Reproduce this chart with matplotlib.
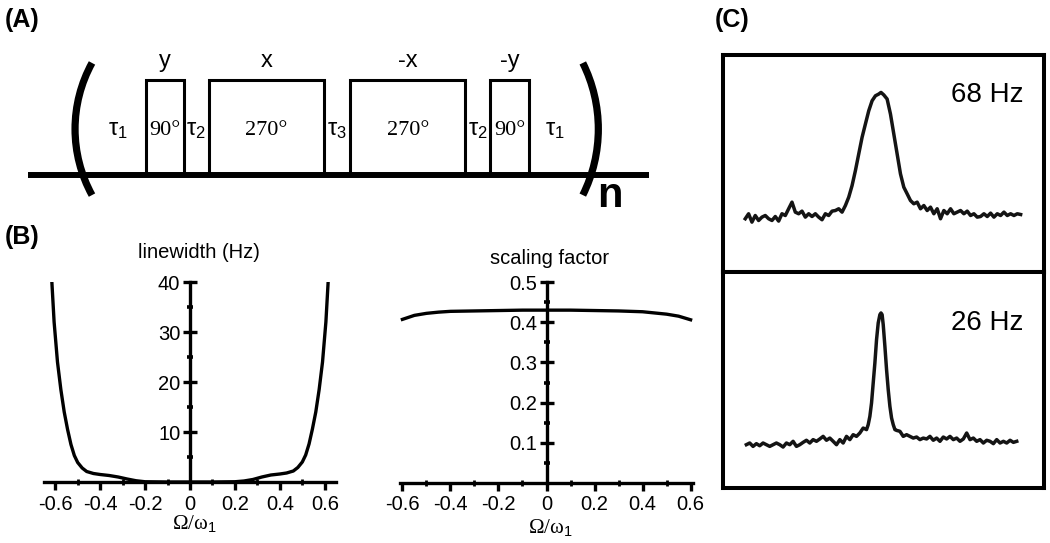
import numpy as np
import matplotlib.pyplot as plt
from matplotlib.patches import Rectangle, Arc
from matplotlib.ticker import FixedLocator

plt.rcParams['font.family'] = ['Liberation Sans', 'DejaVu Sans']
plt.rcParams['mathtext.fontset'] = 'custom'
plt.rcParams['mathtext.rm'] = 'Liberation Sans'
plt.rcParams['mathtext.it'] = 'Liberation Sans:italic'

# (A) pulse sequence: phases, flip angles, delays (in units of a 90 deg pulse)
phases = ['y', 'x', '-x', '-y']
flip_angles = [90, 270, 270, 90]
delay_index = ['1', '2', '3', '2', '1']
delay_lengths = [1.45, 0.65, 0.7, 0.65, 1.4]

# (B) linewidth vs offset
lw_offset = [-0.615, -0.605, -0.59, -0.575, -0.56, -0.545, -0.53, -0.515, -0.50, -0.48,
             -0.46, -0.43, -0.40, -0.36, -0.32, -0.28, -0.24, -0.20, -0.10, 0.0,
             0.10, 0.20, 0.24, 0.28, 0.32, 0.36, 0.40, 0.43, 0.46, 0.48,
             0.50, 0.515, 0.53, 0.545, 0.56, 0.575, 0.59, 0.605, 0.615]
lw_hz = [40, 32, 24, 18.5, 14, 10.5, 7.5, 5.3, 3.9, 2.8,
         2.1, 1.7, 1.5, 1.3, 1.0, 0.6, 0.25, 0.05, 0.0, 0.0,
         0.0, 0.05, 0.2, 0.5, 1.0, 1.4, 1.6, 1.8, 2.2, 2.9,
         4.0, 5.4, 7.6, 10.6, 14, 18.5, 24, 32, 40]

# (B) scaling factor vs offset
sf_offset = [-0.6, -0.55, -0.5, -0.45, -0.4, -0.3, -0.2, -0.1, 0.0, 0.1, 0.2, 0.3, 0.4, 0.45, 0.5, 0.55, 0.6]
sf_value = [0.407, 0.417, 0.422, 0.425, 0.427, 0.428, 0.429, 0.430, 0.430, 0.430, 0.429, 0.428, 0.426, 0.423, 0.420, 0.415, 0.406]

# (C) spectra (offset in Hz, intensity in % of peak)
top_freq = [-244, -238, -232, -226, -220, -214, -208, -202, -196, -190, -184, -178, -172, -166,
            -160, -154, -148, -142, -136, -130, -124, -118, -112, -106, -100, -94, -88, -82,
            -76, -70, -64, -58, -52, -46, -40, -34, -28, -22, -16, -10, -4, 0,
            5, 11, 17, 23, 29, 35, 41, 47, 53, 59, 65, 71, 77, 83, 89, 95, 101, 107,
            113, 119, 125, 131, 137, 143, 149, 155, 161, 167, 173, 179, 185, 191, 197,
            203, 209, 215, 221, 227, 233, 239, 245, 251]
top_int = [-1.3, 2.7, -4.0, 1.3, -2.7, 0, 1.3, -1.3, -2.7, 0.5, -3.2, 2.7, 1.3, 6.7,
           12, 4, 2.7, 4.8, 0, 2.7, 0.5, 2.7, 0, -2.1, 2.7, 1.3, 4.8, 5.3,
           6.7, 4, 9.3, 16, 25.3, 37.3, 50.7, 64, 74.7, 85.3, 93.3, 97.3, 98.7, 100,
           98, 94.7, 82.7, 66.7, 50.7, 34.7, 24, 18.7, 13.3, 10.7, 12, 6.7, 9.3, 5.3, 8, 2.7, 6.7, -1.3,
           5.3, 2.7, 6.7, 2.7, 4, 5.3, 2.7, 4.8, 1.3, 2.7, 0, 0.5, 2.7, 0.5, 3.2,
           0, 2.7, 1.3, 4, 1.3, 2.7, 1.3, 2.7, 2.1]
bot_freq = [-242, -236, -230, -224, -218, -212, -206, -200, -194, -188, -182, -176, -170, -164,
            -158, -152, -146, -140, -134, -128, -122, -116, -110, -104, -98, -92, -86, -80,
            -74, -68, -62, -56, -50, -44, -38, -32, -26, -23, -20, -17, -14, -11, -8, -5, -2, 0,
            2, 4, 7, 10, 13, 16, 19, 22, 25, 28, 34, 40, 46, 52, 58, 64, 70, 76, 82, 88,
            94, 100, 106, 112, 118, 124, 130, 136, 142, 148, 154, 160, 166, 172, 178, 184,
            190, 196, 202, 208, 214, 220, 226, 232, 238, 244]
bot_int = [-1.3, 0, -2.6, -0.5, -2.1, 0, -1.3, -2.6, -1.3, 0, -1.3, -3.1, 0, -1.3,
           1.3, -2.6, -1.3, 0.5, 2.1, 0, 2.6, 1.3, 3.1, 5.1, 2.1, 3.8, 1.3, -1.3,
           2.6, 0, 5.1, 2.6, 6.4, 5.1, 7.7, 11.5, 10.3, 14.1, 20.5, 30.8, 46.2, 61.5, 79.5, 92.3, 98.7, 100,
           98.7, 91, 74.4, 56.4, 41, 28.2, 19.2, 14.1, 10.3, 9.7, 9, 5.1, 6.4, 5.1, 3.8, 4.6, 2.6, 3.8, 3.1, 5.1,
           2.1, 3.8, 1.3, 4.6, 3.1, 5.1, 2.6, 3.8, 1.3, 3.1, 7.7, 2.6, 3.8, 1.3, 2.6, 0,
           2.1, 1.3, -0.5, 2.6, 0, 1.3, 0, 2.1, 0.5, 1.3]
c_labels = ['68 Hz', '26 Hz']

fig = plt.figure(figsize=(10.5, 5.43), dpi=100)
W, H = 1050, 543

def px_axes(x0, y0, x1, y1):
    return fig.add_axes([x0 / W, 1 - y1 / H, (x1 - x0) / W, (y1 - y0) / H])

# ---- panel A ----
PX_X, PX_Y = 38.3, 95.0   # pixels per unit of time / pulse height
axA = px_axes(22, 40, 660, 215)
axA.set_xlim(-1.775, 14.88)
axA.set_ylim(-0.42, 1.42)
axA.axis('off')
axA.plot([-1.62, 14.6], [0, 0], color='black', lw=4.3, solid_capstyle='butt')
t = delay_lengths[0]
axA.text(t / 2, 0.47, 'τ$_' + delay_index[0] + '$', ha='center', va='center', fontsize=17)
for i, (ph, ang) in enumerate(zip(phases, flip_angles)):
    w = ang / 90
    axA.add_patch(Rectangle((t, 0), w, 1, fill=False, lw=2.2, ec='black'))
    axA.text(t + w / 2, 1.2, ph, ha='center', va='center', fontsize=17)
    axA.text(t + w / 2, 0.47, f'{ang}°', ha='center', va='center', fontsize=16,
             family='Liberation Serif')
    t += w
    d = delay_lengths[i + 1]
    axA.text(t + d / 2, 0.47, 'τ$_' + delay_index[i + 1] + '$', ha='center', va='center', fontsize=17)
    t += d

# brackets drawn as circular arcs (round in pixel space)
def bracket(x_mid, r_px, side, half_chord=66):
    cx = x_mid + side * r_px / PX_X
    phi = np.arcsin(half_chord / r_px)
    theta = np.degrees(np.arctan(PX_X / PX_Y * np.tan(phi)))
    a0 = 180 if side > 0 else 0
    axA.add_patch(Arc((cx, 0.484), 2 * r_px / PX_X, 2 * r_px / PX_Y,
                      theta1=a0 - theta, theta2=a0 + theta, lw=5.2, color='black',
                      capstyle='butt'))

bracket(-0.39, 137, 1)
bracket(t + 0.42, 148, -1)
axA.text(t + 0.73, -0.22, 'n', ha='center', va='center', fontsize=30, fontweight='bold')

# ---- panel B ----
def center_axes(ax):
    ax.spines['left'].set_position(('data', 0))
    ax.spines['bottom'].set_position(('data', 0))
    ax.spines['top'].set_visible(False)
    ax.spines['right'].set_visible(False)
    for s in ['left', 'bottom']:
        ax.spines[s].set_linewidth(2.4)
    ax.tick_params(axis='y', which='major', direction='inout', length=10, width=2.4, labelsize=14.5, pad=2)
    ax.tick_params(axis='y', which='minor', direction='inout', length=4, width=2.6)
    ax.tick_params(axis='x', which='major', direction='out', length=6, width=2.4, labelsize=14.5, pad=3)
    ax.tick_params(axis='x', which='minor', direction='inout', length=4, width=2)
    ax.set_xticks([-0.6, -0.4, -0.2, 0, 0.2, 0.4, 0.6])
    ax.set_xticklabels(['-0.6', '-0.4', '-0.2', '0', '0.2', '0.4', '0.6'])
    ax.xaxis.set_minor_locator(FixedLocator([-0.5, -0.3, -0.1, 0.1, 0.3, 0.5]))
    ax.patch.set_visible(False)

xlab = 'Ω/ω$_1$'

axB1 = px_axes(44, 282, 336, 482)
axB1.plot(lw_offset, lw_hz, color='black', lw=2.4)
axB1.set_xlim(-0.65, 0.65)
axB1.set_ylim(0, 40)
center_axes(axB1)
axB1.set_yticks([10, 20, 30, 40])
axB1.yaxis.set_minor_locator(FixedLocator([5, 15, 25, 35]))
axB1.text(0.531, 1.145, 'linewidth (Hz)', transform=axB1.transAxes, ha='center', va='center', fontsize=14.5)
axB1.text(0.514, -0.21, xlab, transform=axB1.transAxes, ha='center', va='center', fontsize=15,
          family='Liberation Serif')

axB2 = px_axes(400, 282, 693, 483)
axB2.plot(sf_offset, sf_value, color='black', lw=2.4)
axB2.set_xlim(-0.61, 0.61)
axB2.set_ylim(0, 0.5)
center_axes(axB2)
axB2.set_yticks([0.1, 0.2, 0.3, 0.4, 0.5])
axB2.yaxis.set_minor_locator(FixedLocator([0.05, 0.15, 0.25, 0.35, 0.45]))
axB2.text(0.512, 1.119, 'scaling factor', transform=axB2.transAxes, ha='center', va='center', fontsize=14.5)
axB2.text(0.512, -0.224, xlab, transform=axB2.transAxes, ha='center', va='center', fontsize=15,
          family='Liberation Serif')

# ---- panel C ----
axC1 = px_axes(723, 55, 1044, 272)
axC2 = px_axes(723, 272, 1044, 488)
axC1.plot(top_freq, top_int, color='#141414', lw=2.5, solid_joinstyle='round')
axC2.plot(bot_freq, bot_int, color='#141414', lw=2.5, solid_joinstyle='round')
axC1.set_ylim(-44, 130)
axC2.set_ylim(-34.6, 131.5)
for ax, lab, ly in zip([axC1, axC2], c_labels, [0.816, 0.764]):
    ax.set_xlim(-284, 293)
    ax.set_xticks([])
    ax.set_yticks([])
    for s in ax.spines.values():
        s.set_linewidth(2.9)
    ax.text(0.935, ly, lab, transform=ax.transAxes, ha='right', va='center', fontsize=20)

fig.text(5 / W, 1 - 20 / H, '(A)', fontsize=18, fontweight='bold', va='center')
fig.text(5 / W, 1 - 237 / H, '(B)', fontsize=18, fontweight='bold', va='center')
fig.text(715 / W, 1 - 20 / H, '(C)', fontsize=18, fontweight='bold', va='center')

fig.savefig('out.png', dpi=100)
